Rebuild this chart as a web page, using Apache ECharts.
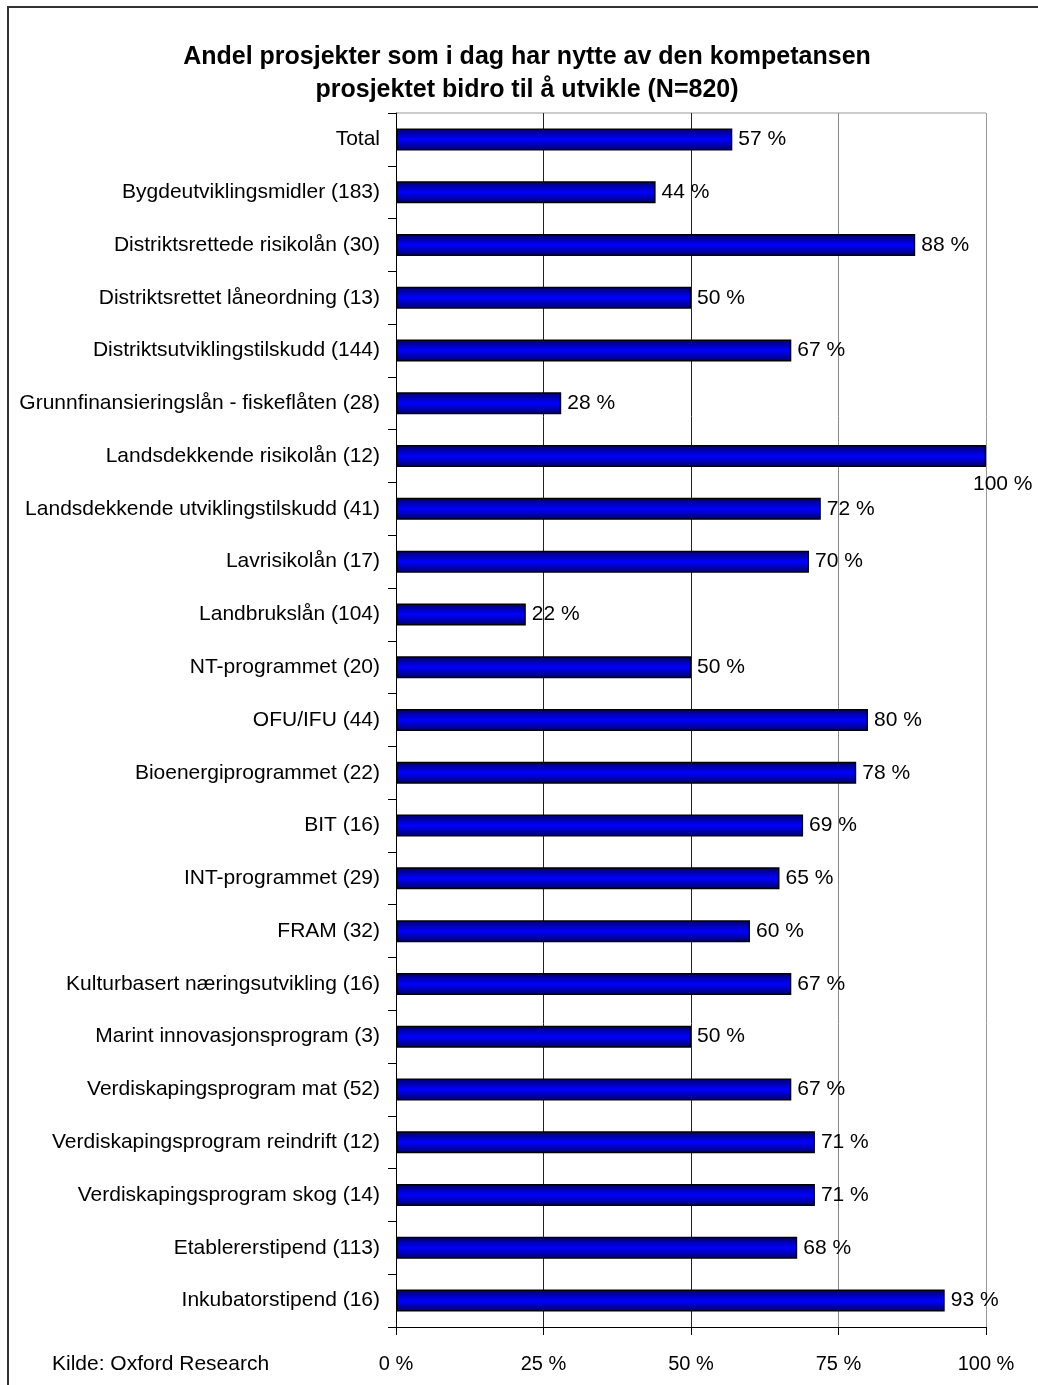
<!DOCTYPE html>
<html><head><meta charset="utf-8">
<script src="https://cdn.jsdelivr.net/npm/echarts@6/dist/echarts.min.js"></script>
<style>html,body{margin:0;padding:0;background:#fff}#c{width:1038px;height:1385px}</style>
</head><body><div id="c"></div>
<script>
const categories = ["Total","Bygdeutviklingsmidler (183)","Distriktsrettede risikolån (30)","Distriktsrettet låneordning (13)","Distriktsutviklingstilskudd (144)","Grunnfinansieringslån - fiskeflåten (28)","Landsdekkende risikolån (12)","Landsdekkende utviklingstilskudd (41)","Lavrisikolån (17)","Landbrukslån (104)","NT-programmet (20)","OFU/IFU (44)","Bioenergiprogrammet (22)","BIT (16)","INT-programmet (29)","FRAM (32)","Kulturbasert næringsutvikling (16)","Marint innovasjonsprogram (3)","Verdiskapingsprogram mat (52)","Verdiskapingsprogram reindrift (12)","Verdiskapingsprogram skog (14)","Etablererstipend (113)","Inkubatorstipend (16)"];
const values = [57,44,88,50,67,28,100,72,70,22,50,80,78,69,65,60,67,50,67,71,71,68,93];
const xTicks = [0,25,50,75,100];
const titleLines = ["Andel prosjekter som i dag har nytte av den kompetansen","prosjektet bidro til å utvikle (N=820)"];
const source = "Kilde: Oxford Research";

const FONT = "'Liberation Sans', Arial, sans-serif";
const chart = echarts.init(document.getElementById('c'), null, {renderer:'canvas'});
const barData = values.map(v => {
  const d = {value: v};
  if (v >= 100) {
    d.label = {position: [577, 29], align: 'left', verticalAlign: 'top'};
  }
  return d;
});
chart.setOption({
  animation: false,
  backgroundColor: '#fff',
  grid: {left: 396, right: 52, top: 113, bottom: 58, containLabel: false},
  xAxis: {
    type: 'value', min: 0, max: 100, interval: 25,
    axisLine: {show: true, lineStyle: {color: '#000', width: 1}},
    axisTick: {show: true, length: 8, lineStyle: {color: '#000'}},
    axisLabel: {formatter: v => v + ' %', fontFamily: FONT, fontSize: 20, color: '#000', margin: 27},
    splitLine: {show: true, lineStyle: {color: ['#000','#222','#222','#888','#999'], width: 1}}
  },
  yAxis: {
    type: 'category', data: categories, inverse: true,
    axisLine: {show: true, lineStyle: {color: '#000', width: 1}},
    axisTick: {show: true, length: 8, lineStyle: {color: '#000'}},
    axisLabel: {fontFamily: FONT, fontSize: 21, color: '#000', margin: 16},
    splitLine: {show: false}
  },
  series: [{
    type: 'bar', data: barData, barWidth: 22,
    itemStyle: {
      color: new echarts.graphic.LinearGradient(0, 0, 0, 1, [
        {offset: 0, color: '#000066'},
        {offset: 0.5, color: '#0000ff'},
        {offset: 1, color: '#000066'}
      ]),
      borderColor: '#000', borderWidth: 1.5
    },
    label: {show: true, position: 'right', distance: 6, formatter: p => p.value + ' %', fontFamily: FONT, fontSize: 21, color: '#000'}
  }],
  graphic: [
    {type: 'line', shape: {x1: 7, y1: 7, x2: 1038, y2: 7}, style: {stroke: '#333', lineWidth: 2}},
    {type: 'line', shape: {x1: 8, y1: 6, x2: 8, y2: 1385}, style: {stroke: '#333', lineWidth: 2}},
    {type: 'line', shape: {x1: 396, y1: 113, x2: 986, y2: 113}, style: {stroke: '#999', lineWidth: 1}},
    {type: 'text', style: {x: 527, y: 57, text: titleLines[0], textAlign: 'center', textVerticalAlign: 'middle', font: "bold 25px " + FONT, fill: '#000'}},
    {type: 'text', style: {x: 527, y: 90, text: titleLines[1], textAlign: 'center', textVerticalAlign: 'middle', font: "bold 25px " + FONT, fill: '#000'}},
    {type: 'text', style: {x: 52, y: 1364, text: source, textAlign: 'left', textVerticalAlign: 'middle', font: "21px " + FONT, fill: '#000'}}
  ]
});
</script></body></html>
